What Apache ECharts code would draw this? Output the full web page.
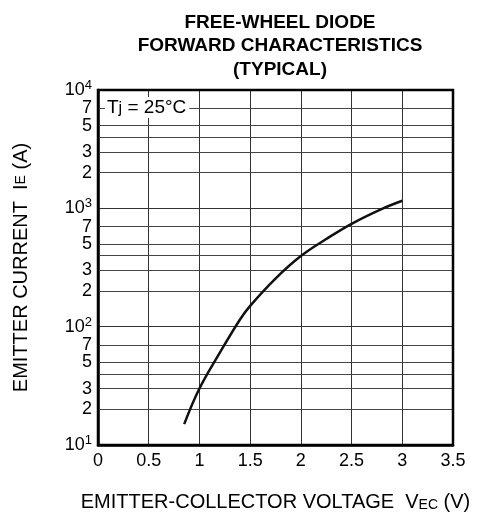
<!DOCTYPE html>
<html>
<head>
<meta charset="utf-8">
<script src="https://cdn.jsdelivr.net/npm/echarts@6/dist/echarts.min.js"></script>
<style>html,body{margin:0;padding:0;background:#fff}#c{width:477px;height:522px}</style>
</head>
<body>
<div id="c"></div>
<script>
// Forward characteristic: VEC (V) vs IE (A)
var voltage = [0.85, 1.0, 1.2, 1.4, 1.5, 1.75, 2.0, 2.25, 2.5, 2.8, 3.0];
var current = [15, 30, 60, 115, 150, 255, 395, 550, 740, 990, 1160];

// horizontal grid lines (log axis) and their small labels
var gridValues = [20, 30, 40, 50, 70, 200, 300, 400, 500, 700, 2000, 3000, 4000, 5000, 7000];
var minorLabels = {20: '2', 30: '3', 50: '5', 70: '7', 200: '2', 300: '3', 500: '5', 700: '7', 2000: '2', 3000: '3', 5000: '5', 7000: '7'};
var decadeValues = [10, 100, 1000, 10000];
var xTicks = [0, 0.5, 1, 1.5, 2, 2.5, 3, 3.5];

var FONT = 'Liberation Sans, Arial, sans-serif';
var chart = echarts.init(document.getElementById('c'));

var pts = voltage.map(function (v, i) { return [v, current[i]]; });

var markData = gridValues.map(function (g) {
  var lab = minorLabels[g];
  return {
    yAxis: g,
    lineStyle: { color: '#444', width: 1, type: 'solid' },
    label: lab ? { show: true, position: 'start', formatter: lab, distance: 6, color: '#000', fontSize: 18, fontFamily: FONT } : { show: false }
  };
});

chart.setOption({
  animation: false,
  backgroundColor: '#fff',
  title: {
    text: 'FREE-WHEEL DIODE\nFORWARD CHARACTERISTICS\n(TYPICAL)',
    left: 275, textAlign: 'center', top: 6,
    textStyle: { fontFamily: FONT, fontWeight: 'bold', fontSize: 19, lineHeight: 23.5, color: '#000' }
  },
  grid: { left: 98, right: 24, top: 90, bottom: 77 },
  xAxis: {
    type: 'value', min: 0, max: 3.5, interval: 0.5,
    name: 'EMITTER-COLLECTOR VOLTAGE  V{sub|EC} (V)',
    nameLocation: 'middle', nameGap: 47,
    nameTextStyle: { fontFamily: FONT, fontSize: 20, color: '#000',
      rich: { sub: { fontFamily: FONT, fontSize: 14, color: '#000', verticalAlign: 'bottom' } } },
    axisLine: { show: true, lineStyle: { color: '#000', width: 2.5 } },
    axisTick: { show: false },
    axisLabel: { fontFamily: FONT, fontSize: 18, color: '#000', margin: 7,
      formatter: function (v) { return String(v); } },
    splitLine: { show: true, lineStyle: { color: '#333', width: 1 } }
  },
  yAxis: {
    type: 'log', logBase: 10, min: 10, max: 10000,
    name: 'EMITTER CURRENT  I{sub|E} (A)',
    nameLocation: 'middle', nameGap: 67,
    nameTextStyle: { fontFamily: FONT, fontSize: 20, color: '#000',
      rich: { sub: { fontFamily: FONT, fontSize: 14, color: '#000' } } },
    axisLine: { show: true, lineStyle: { color: '#000', width: 2.5 } },
    axisTick: { show: false },
    axisLabel: { fontFamily: FONT, fontSize: 18, color: '#000', margin: 6,
      formatter: function (v) { var e = Math.round(Math.log10(v)); return '10{sup|' + e + '}'; },
      rich: { sup: { fontFamily: FONT, fontSize: 13, color: '#000', verticalAlign: 'top', padding: [0, 0, 9, 0] } }
    },
    splitLine: { show: true, lineStyle: { color: '#333', width: 1 } }
  },
  series: [{
    type: 'line',
    data: pts,
    smooth: 0.4,
    showSymbol: false,
    symbol: 'none',
    lineStyle: { color: '#111', width: 2.5 },
    markLine: { silent: true, symbol: ['none', 'none'], animation: false, data: markData },
    z: 5
  }],
  graphic: [{
    type: 'text', left: 105, top: 97, z: 100,
    style: {
      text: 'T{sub|j} = 25°C',
      font: '19px ' + FONT, fill: '#000',
      backgroundColor: '#fff', padding: [1, 3, 1, 2],
      rich: { sub: { fontSize: 16, fontFamily: FONT, fill: '#000', verticalAlign: 'bottom' } }
    }
  }, {
    type: 'rect', shape: { x: 98, y: 90, width: 355, height: 355 }, z: 50,
    style: { fill: 'none', stroke: '#000', lineWidth: 2.5 }
  }]
});
</script>
</body>
</html>
